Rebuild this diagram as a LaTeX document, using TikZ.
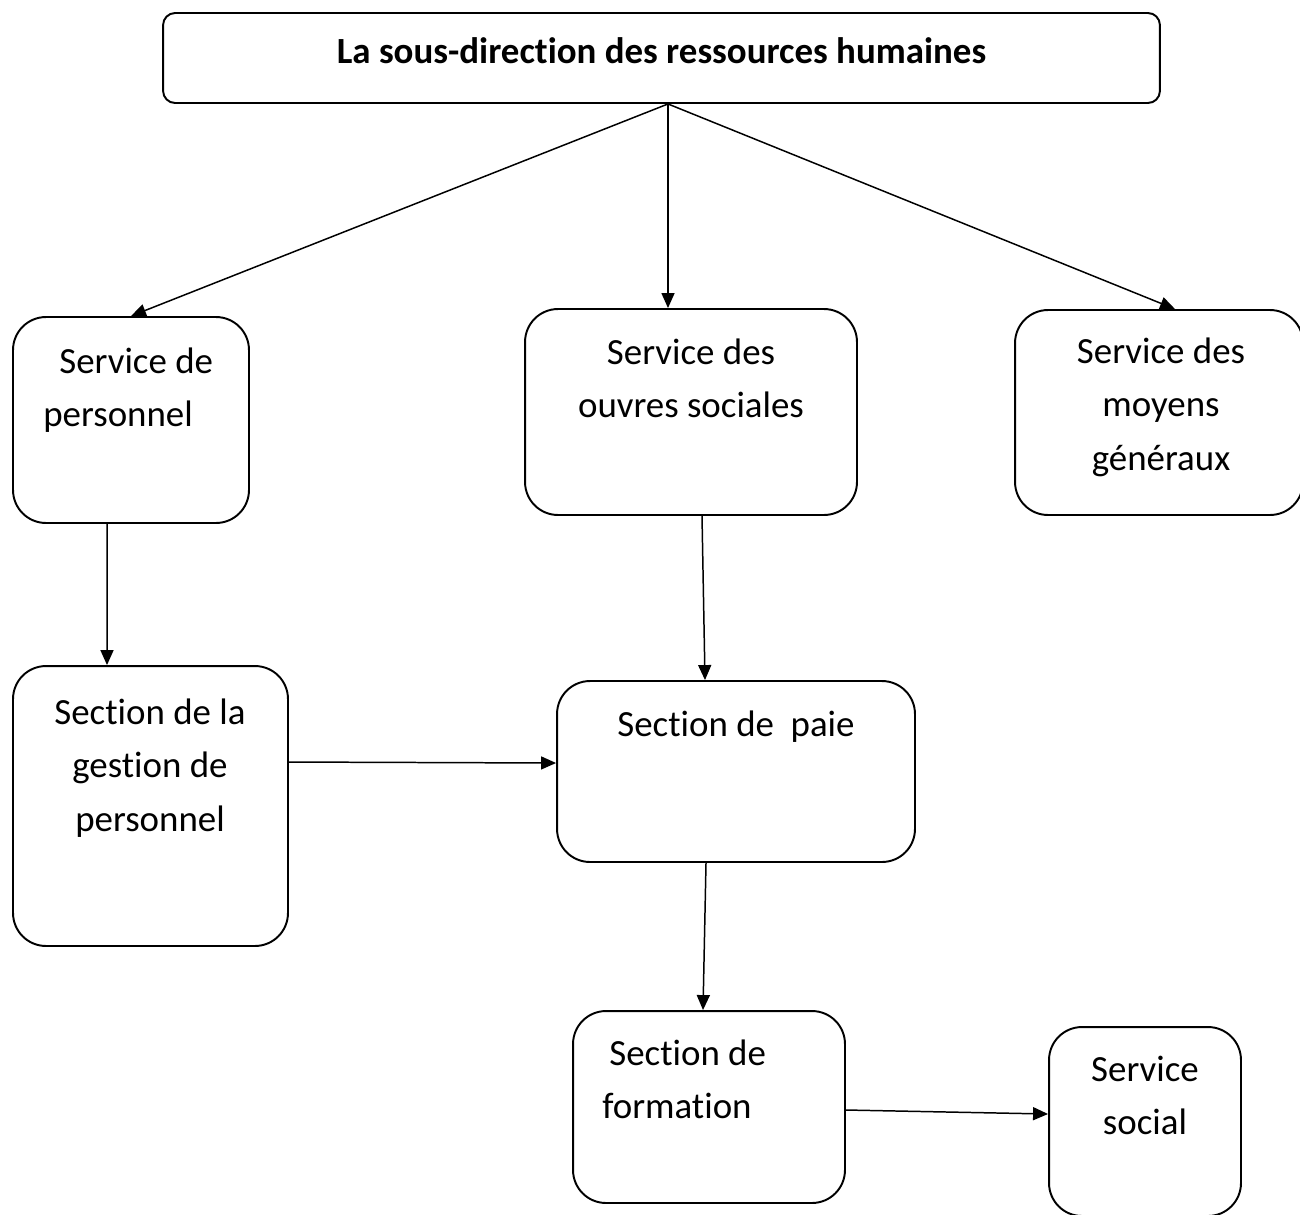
\documentclass[tikz,border=0pt]{standalone}
\usepackage{fontspec}
\setmainfont[Ligatures=NoCommon]{Carlito}
\usepackage{tikz}
\usetikzlibrary{arrows.meta}

\tikzset{
  box/.style={draw, line width=1.1pt, rounded corners=0.66cm, inner sep=0pt},
  txt/.style={font=\fontsize{21}{30.5}\selectfont, inner sep=0pt, align=center, anchor=north},
  arr/.style={-{Triangle[length=0.3cm,width=0.26cm]}, line width=0.85pt}
}

\begin{document}
\begin{tikzpicture}[x=0.02cm, y=-0.02cm]
  \useasboundingbox (0,0) rectangle (1300,1214);
  % boxes
  \node[box, rounded corners=0.24cm, minimum width=19.94cm, minimum height=1.8cm] (top) at (661.5,58) {};
  \node[box, minimum width=4.72cm, minimum height=4.12cm] (pers) at (131,420) {};
  \node[box, minimum width=6.64cm, minimum height=4.12cm] (ouvres) at (691,412) {};
  \node[box, minimum width=5.76cm, minimum height=4.1cm] (moyens) at (1159,412.5) {};
  \node[box, minimum width=5.5cm, minimum height=5.6cm] (gestion) at (150.5,806) {};
  \node[box, minimum width=7.16cm, minimum height=3.62cm] (paie) at (736,771.5) {};
  \node[box, minimum width=5.44cm, minimum height=3.84cm] (formation) at (709,1107) {};
  \node[box, minimum width=3.84cm, minimum height=3.78cm] (social) at (1145,1121.5) {};
  % texts
  \node[font=\fontsize{21}{30.5}\selectfont\bfseries, inner sep=0pt, anchor=base] (tTop) at (661.5,63) {La sous-direction des ressources humaines};
  \node[txt, align=left, anchor=north west] (tPers) at (43,335.4) {\strut\hspace*{0.32cm}Service de\\personnel};
  \node[txt] (tOuvres) at (691,326.4) {\strut Service des\\ouvres sociales};
  \node[txt] (tMoyens) at (1161,325.4) {\strut Service des\\moyens\\généraux};
  \node[txt] (tGestion) at (150,686.4) {\strut Section de la\\gestion de\\personnel};
  \node[txt] (tPaie) at (736,698.4) {\strut Section de\ \ paie};
  \node[txt, align=left, anchor=north west] (tFormation) at (602,1027.4) {\strut\hspace*{0.14cm}Section de\\formation};
  \node[txt] (tSocial) at (1145,1043.4) {\strut Service\\social};
  % connectors
  \coordinate (hub) at ([xshift=0.13cm]top.south);
  \draw[arr] (hub) -- (pers.north);
  \draw[arr] (hub) -- (hub |- ouvres.north);
  \draw[arr] (hub) -- ([xshift=0.32cm]moyens.north);
  \draw[arr] ([xshift=-0.48cm]pers.south) -- ([xshift=-0.87cm]gestion.north);
  \draw[arr] ([xshift=0.22cm]ouvres.south) -- ([xshift=-0.62cm]paie.north);
  \draw[arr] ([yshift=0.88cm]gestion.east) -- ([yshift=0.17cm]paie.west);
  \draw[arr] ([xshift=-0.6cm]paie.south) -- ([xshift=-0.12cm]formation.north);
  \draw[arr] ([yshift=-0.06cm]formation.east) -- ([yshift=0.15cm]social.west);
\end{tikzpicture}
\end{document}
